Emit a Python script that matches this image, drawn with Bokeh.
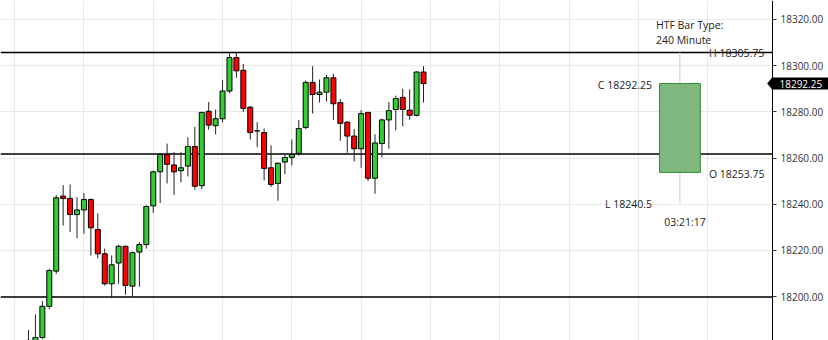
from bokeh.plotting import figure
from bokeh.models import (Range1d, FixedTicker, Span, Label, PolyAnnotation, BoxAnnotation,
                          ColumnDataSource, NumeralTickFormatter, LinearAxis, Grid)
from bokeh.embed import file_html
from bokeh.resources import INLINE
from bokeh.core.properties import value

# ---- data ----
opens = [18174.0, 18176.0, 18182.25, 18195.75, 18211.0, 18243.5, 18242.5, 18235.5, 18237.5, 18242.0,
         18229.0, 18218.5, 18205.5, 18214.5, 18221.75, 18204.5, 18219.25, 18222.5, 18239.25, 18254.0,
         18261.5, 18257.0, 18254.5, 18256.5, 18265.0, 18248.0, 18280.25, 18274.0, 18277.0, 18289.0,
         18303.5, 18298.0, 18282.0, 18271.75, 18271.0, 18255.75, 18249.0, 18258.25, 18260.25, 18262.0,
         18273.25, 18292.75, 18287.5, 18288.5, 18294.75, 18284.0, 18275.5, 18269.5, 18264.0, 18279.75,
         18251.25, 18266.25, 18276.5, 18281.0, 18286.25, 18280.75, 18278.5, 18297.25]
highs = [18185.5, 18192.25, 18198.0, 18212.0, 18244.0, 18248.25, 18248.5, 18243.0, 18244.75, 18242.5,
         18236.0, 18220.75, 18217.75, 18222.5, 18222.0, 18219.5, 18223.5, 18239.5, 18254.5, 18262.0,
         18266.25, 18262.5, 18262.5, 18269.0, 18273.5, 18280.0, 18284.25, 18281.0, 18293.75, 18305.5,
         18305.5, 18300.75, 18282.5, 18275.5, 18272.75, 18265.5, 18258.0, 18262.0, 18268.0, 18276.5,
         18293.5, 18299.75, 18294.0, 18296.0, 18296.5, 18285.5, 18276.0, 18272.5, 18280.75, 18280.0,
         18270.25, 18277.0, 18284.25, 18287.0, 18290.0, 18289.75, 18297.5, 18299.75]
lows = [18172.0, 18174.0, 18181.5, 18194.5, 18209.75, 18230.75, 18228.0, 18225.25, 18227.25, 18217.75,
        18216.5, 18204.75, 18199.25, 18205.5, 18200.75, 18199.75, 18204.25, 18220.75, 18236.25, 18240.5,
        18249.0, 18244.0, 18249.5, 18252.0, 18246.25, 18246.5, 18272.25, 18270.25, 18275.5, 18288.0,
        18294.75, 18280.0, 18268.0, 18264.75, 18250.25, 18247.5, 18241.5, 18253.0, 18256.75, 18261.0,
        18272.5, 18279.25, 18284.0, 18284.5, 18276.5, 18267.5, 18262.25, 18258.5, 18255.75, 18250.0,
        18244.5, 18260.25, 18264.0, 18272.0, 18273.75, 18276.5, 18278.0, 18284.0]
closes = [18181.0, 18182.25, 18195.75, 18211.25, 18242.75, 18242.5, 18235.5, 18237.5, 18242.0, 18229.75,
          18218.5, 18205.5, 18213.75, 18221.75, 18204.75, 18219.0, 18222.5, 18239.0, 18254.0, 18261.5,
          18257.25, 18254.0, 18255.75, 18265.0, 18247.75, 18279.75, 18274.25, 18277.0, 18289.0, 18303.5,
          18297.75, 18281.5, 18271.0, 18271.75, 18255.5, 18248.5, 18257.75, 18260.25, 18261.5, 18272.75,
          18292.75, 18287.5, 18288.5, 18294.75, 18283.5, 18275.0, 18269.5, 18264.0, 18279.25, 18251.25,
          18266.5, 18276.5, 18280.5, 18285.75, 18281.0, 18278.5, 18297.25, 18292.25]

htf_open = 18253.75
htf_high = 18305.75
htf_low = 18240.5
htf_close = 18292.25
htf_type_title = "HTF Bar Type:"
htf_type = "240 Minute"
htf_timer = "03:21:17"

levels = [18305.75, 18261.75, 18199.75]
y_ticks = [18180, 18200, 18220, 18240, 18260, 18280, 18300, 18320]

# ---- layout constants ----
PX = 6.93                    # pixels per bar slot
X0 = -28 / PX
X1 = (828 - 28) / PX
AXIS_X = (772 - 28) / PX
HTF_X = 94
grid_x = list(range(-2, 110, 10))
FONT = "Open Sans"
UPX = 277 / 120.0            # pixels per price unit

n = len(opens)
src = ColumnDataSource(dict(
    x=list(range(n)),
    high=highs, low=lows,
    top=[max(o, c) for o, c in zip(opens, closes)],
    bottom=[min(o, c) for o, c in zip(opens, closes)],
    color=["#32cd32" if c >= o else "#ff0000" for o, c in zip(opens, closes)],
))

p = figure(width=828, height=340,
           x_range=Range1d(X0, X1), y_range=Range1d(18180.94, 18328.23),
           output_backend="svg", toolbar_location=None,
           x_axis_location=None, y_axis_location=None,
           min_border=0)
p.outline_line_color = None
p.background_fill_color = "white"
p.border_fill_color = "white"
p.center = []

# grid
p.add_layout(Grid(dimension=0, ticker=FixedTicker(ticks=grid_x), grid_line_color="#e9e9e9"))
p.add_layout(Grid(dimension=1, ticker=FixedTicker(ticks=y_ticks), grid_line_color="#e9e9e9"))

# horizontal levels
for lv in levels:
    p.add_layout(Span(location=lv, dimension="width", line_color="black", line_width=1.5, level="underlay"))

# blank axis area to the right of the axis line
p.add_layout(BoxAnnotation(left=AXIS_X, fill_color="white", fill_alpha=1, line_color=None, level="underlay"))

# y axis (inside frame at fixed location)
ax = LinearAxis(fixed_location=AXIS_X,
                ticker=FixedTicker(ticks=y_ticks),
                formatter=NumeralTickFormatter(format="0.00"))
ax.axis_line_color = "black"
ax.major_tick_line_color = "#333333"
ax.major_tick_out = 4
ax.major_tick_in = 0
ax.minor_tick_line_color = None
ax.major_label_standoff = 4
ax.major_label_text_font = FONT
ax.major_label_text_font_size = "10px"
ax.major_label_text_color = "#333333"
p.add_layout(ax, "right")

# candles
p.segment(x0="x", y0="low", x1="x", y1="high", source=src, line_color="#222222", line_width=1)
p.vbar(x="x", width=0.72, top="top", bottom="bottom", source=src,
       fill_color="color", line_color="black", line_width=1)

# HTF bar
p.segment(x0=[HTF_X], y0=[htf_low], x1=[HTF_X], y1=[htf_high], line_color="#c8c8c8", line_width=1)
p.vbar(x=[HTF_X], width=5.9, top=[max(htf_open, htf_close)], bottom=[min(htf_open, htf_close)],
       fill_color="#7fb77e", line_color="#2f8f2f", line_width=1)

tcol = "#222222"
tsize = "10.5px"
p.text(x=[HTF_X] * 4,
       y=[htf_high, htf_high, htf_high, htf_open],
       text=[htf_type_title, htf_type, f"H {htf_high}", f"O {htf_open}"],
       x_offset=[-24, -24, 29, 29], y_offset=[-27, -12, 1, 2],
       text_align="left", text_baseline="middle",
       text_font=value(FONT), text_font_size=tsize, text_color=tcol)
p.text(x=[HTF_X] * 2, y=[htf_close, htf_low],
       text=[f"C {htf_close}", f"L {htf_low}"],
       x_offset=[-28, -28], y_offset=[1.5, 1],
       text_align="right", text_baseline="middle",
       text_font=value(FONT), text_font_size=tsize, text_color=tcol)
p.text(x=[HTF_X], y=[htf_low], text=[htf_timer], x_offset=[5], y_offset=[18.5],
       text_align="center", text_baseline="middle",
       text_font=value(FONT), text_font_size=tsize, text_color=tcol)

# current price marker
last = closes[-1]
p.add_layout(PolyAnnotation(
    xs=[AXIS_X - 5.3 / PX, AXIS_X + 0.5 / PX, AXIS_X + 0.5 / PX],
    ys=[last, last + 7 / UPX, last - 7 / UPX],
    fill_color="black", fill_alpha=1, line_color=None))
p.add_layout(Label(x=AXIS_X, y=last, text=f"{last:.2f}",
                   text_align="left", text_baseline="middle",
                   text_font=FONT, text_font_size="10px", text_color="white",
                   background_fill_color="black",
                   padding=dict(left=7, right=10, top=2, bottom=2)))

open("out.html", "w").write(file_html(p, INLINE))
